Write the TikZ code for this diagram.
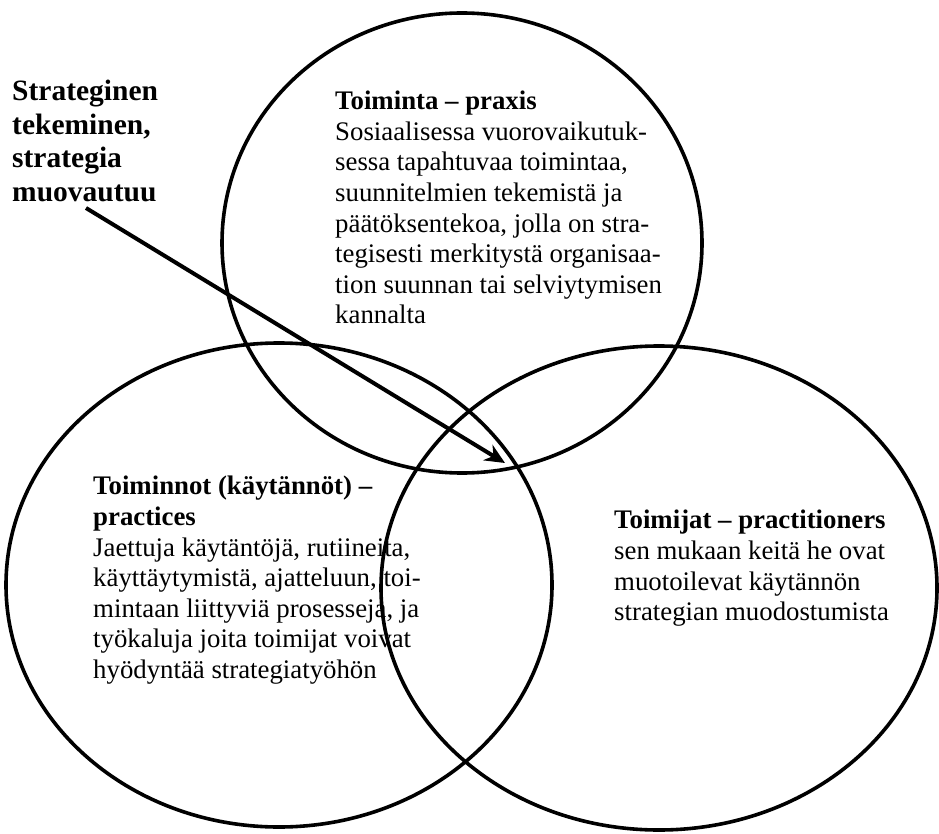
\documentclass[tikz,border=0pt]{standalone}
\usepackage{fontspec}
\setmainfont{Liberation Serif}
\usetikzlibrary{shapes.geometric,arrows.meta}
\tikzset{
  circ/.style={draw=black, line width=3.6pt, ellipse, inner sep=0pt},
  body/.style={align=left, inner sep=0pt, anchor=north west, font=\fontsize{26.8}{30.6}\selectfont},
  side/.style={align=left, inner sep=0pt, anchor=north west, font=\bfseries\fontsize{29.5}{33.5}\selectfont},
  pointer/.style={line width=4pt, -{Stealth[length=20pt,width=18pt]}}
}
\begin{document}
\begin{tikzpicture}[x=1pt,y=-1pt]
\useasboundingbox (0,0) rectangle (939,834);
\fill[white] (0,0) rectangle (939,834);
\node[circ, minimum width=480pt, minimum height=460pt] (topc) at (462,243) {};
\node[circ, minimum width=546pt, minimum height=484pt] (leftc) at (279,585) {};
\node[circ, minimum width=556pt, minimum height=484pt] (rightc) at (659,588) {};
\node[side] (strat) at (12,80) {Strateginen\\tekeminen,\\strategia\\muovautuu};
\node[body] (praxis) at (335,91) {\textbf{Toiminta – praxis}\\Sosiaalisessa vuorovaikutuk-\\sessa tapahtuvaa toimintaa,\\suunnitelmien tekemistä ja\\päätöksentekoa, jolla on stra-\\tegisesti merkitystä organisaa-\\tion suunnan tai selviytymisen\\kannalta};
\node[body] (practices) at (93,476) {\textbf{Toiminnot (käytännöt) –}\\\textbf{practices}\\Jaettuja käytäntöjä, rutiineita,\\käyttäytymistä, ajatteluun, toi-\\mintaan liittyviä prosesseja, ja\\työkaluja joita toimijat voivat\\hyödyntää strategiatyöhön};
\node[body] (practitioners) at (614,510) {\textbf{Toimijat – practitioners}\\sen mukaan keitä he ovat\\muotoilevat käytännön\\strategian muodostumista};
\coordinate (astart) at (86,208);
\coordinate (atip) at (505,463);
\draw[pointer] (astart) -- (atip);
\end{tikzpicture}
\end{document}
